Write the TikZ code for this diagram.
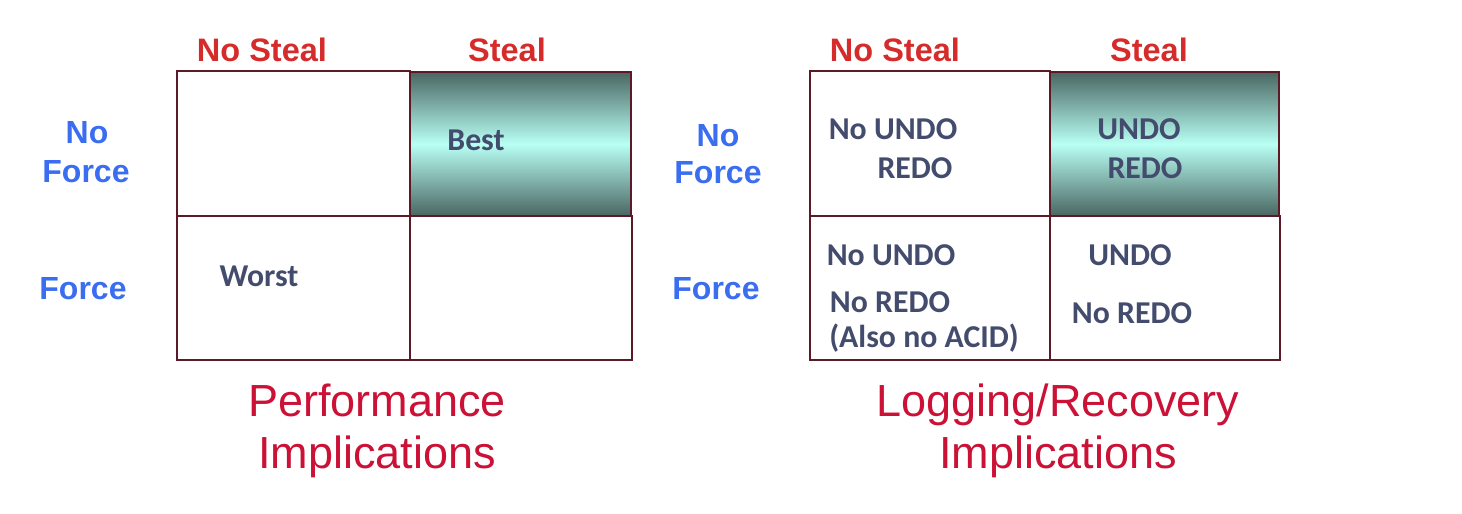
\documentclass[tikz,border=0pt]{standalone}
\usepackage{fontspec}
\setmainfont{Liberation Sans}
\newfontfamily\calib{Carlito}
\definecolor{hred}{HTML}{D62B2B}
\definecolor{hblue}{HTML}{3A6DF0}
\definecolor{btxt}{HTML}{434C6C}
\definecolor{capred}{HTML}{CC1136}
\definecolor{bord}{HTML}{5C1A28}
\definecolor{tdark}{HTML}{4A6662}
\definecolor{tlight}{HTML}{B8FFF4}
\tikzset{
  cellbox/.style={draw=bord, line width=2pt, inner sep=0pt, outer sep=0pt, rectangle},
  hotcell/.style={cellbox, line width=2.6pt, top color=tdark, bottom color=tdark, middle color=tlight, shading angle=0},
  colhdr/.style={font=\bfseries\fontsize{32.5}{36}\selectfont, text=hred, anchor=base, inner sep=0pt},
  rowhdr/.style={font=\bfseries\fontsize{32}{36}\selectfont, text=hblue, anchor=base, inner sep=0pt},
  body/.style={font=\calib\bfseries\fontsize{31.8}{36}\selectfont, text=btxt, anchor=base, inner sep=0pt},
  captxt/.style={font=\fontsize{45}{50}\selectfont, text=capred, anchor=base, inner sep=0pt}
}
\begin{document}
\begin{tikzpicture}[x=1pt,y=-1pt]
\useasboundingbox (0,0) rectangle (1462,514);
% ---------- left grid ----------
\node[cellbox, minimum width=233pt, minimum height=145pt] (lnsnf) at (293.5,143.5) {};
\node[cellbox, minimum width=233pt, minimum height=144pt] (lnsf) at (293.5,288) {};
\node[cellbox, minimum width=222pt, minimum height=144pt] (lsf) at (521,288) {};
\node[hotcell, minimum width=221pt, minimum height=144pt] (lsnf) at (520.5,144) {};
% ---------- right grid ----------
\node[cellbox, minimum width=240pt, minimum height=145pt] (rnsnf) at (930,143.5) {};
\node[cellbox, minimum width=240pt, minimum height=144pt] (rnsf) at (930,288) {};
\node[cellbox, minimum width=230pt, minimum height=144pt] (rsf) at (1165,288) {};
\node[hotcell, minimum width=229pt, minimum height=144pt] (rsnf) at (1164.5,144) {};
% ---------- column headers ----------
\node[colhdr] (lhns) at (262,61) {No Steal};
\node[colhdr] (lhs) at (507,61) {Steal};
\node[colhdr] (rhns) at (895,61) {No Steal};
\node[colhdr] (rhs) at (1149,61) {Steal};
% ---------- row headers ----------
\node[rowhdr] (lrno) at (87,143) {No};
\node[rowhdr] (lrforce) at (86,182) {Force};
\node[rowhdr] (lrf) at (83,299) {Force};
\node[rowhdr] (rrno) at (718,146) {No};
\node[rowhdr] (rrforce) at (718,183) {Force};
\node[rowhdr] (rrf) at (716,299) {Force};
% ---------- body ----------
\node[body] (best) at (476,150) {Best};
\node[body] (worst) at (259,286) {Worst};
\node[body] (t1) at (893,139) {No UNDO};
\node[body] (t2) at (915,178) {REDO};
\node[body] (t3) at (1139,139) {UNDO};
\node[body] (t4) at (1145,178) {REDO};
\node[body] (t5) at (891,265) {No UNDO};
\node[body] (t6) at (890,312) {No REDO};
\node[body] (t7) at (924,347) {(Also no ACID)};
\node[body] (t8) at (1130,265) {UNDO};
\node[body] (t9) at (1132,323) {No REDO};
% ---------- captions ----------
\node[captxt] (c1) at (377,416) {Performance};
\node[captxt] (c2) at (377,468) {Implications};
\node[captxt] (c3) at (1058,416) {Logging/Recovery};
\node[captxt] (c4) at (1058,468) {Implications};
\end{tikzpicture}
\end{document}
